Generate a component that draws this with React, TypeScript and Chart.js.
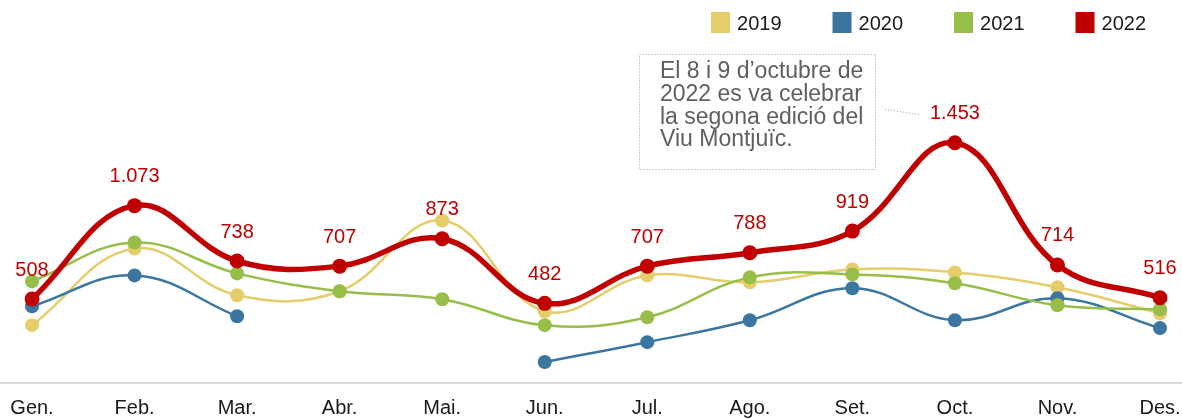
import React, { useEffect, useRef } from 'react';
import { Chart, registerables } from 'chart.js';

Chart.register(...registerables);

const months = ['Gen.', 'Feb.', 'Mar.', 'Abr.', 'Mai.', 'Jun.', 'Jul.', 'Ago.', 'Set.', 'Oct.', 'Nov.', 'Des.'];
const years = ['2019', '2020', '2021', '2022'];
const values2019 = [350, 814, 531, 555, 983, 434, 651, 609, 687, 669, 579, 422];
const values2020 = [464, 651, 404, null, null, 127, 247, 380, 573, 380, 513, 332];
const values2021 = [615, 850, 663, 555, 507, 350, 398, 639, 657, 603, 470, 446];
const values2022 = [508, 1073, 738, 707, 873, 482, 707, 788, 919, 1453, 714, 516];
const colors = ['#E6CD6C', '#3A76A0', '#98BE4A', '#C00000'];
const noteLines = ['El 8 i 9 d\u2019octubre de', '2022 es va celebrar', 'la segona edici\u00f3 del', 'Viu Montju\u00efc.'];

const FONT = '"Liberation Sans", Arial, sans-serif';

function fmt(v: number): string {
  if (v >= 1000) return Math.floor(v / 1000) + '.' + String(v % 1000).padStart(3, '0');
  return String(v);
}

const overlay = {
  id: 'overlay',
  beforeDatasetsDraw(chart: any) {
    const ctx = chart.ctx;
    const ca = chart.chartArea;
    ctx.save();
    ctx.strokeStyle = '#d9d9d9';
    ctx.lineWidth = 2;
    ctx.beginPath();
    ctx.moveTo(0, ca.bottom);
    ctx.lineTo(chart.width, ca.bottom);
    ctx.stroke();
    ctx.restore();
  },
  afterDatasetsDraw(chart: any) {
    const ctx = chart.ctx;
    const meta = chart.getDatasetMeta(3);
    ctx.save();
    ctx.font = '20px ' + FONT;
    ctx.fillStyle = colors[3];
    ctx.textAlign = 'center';
    ctx.textBaseline = 'middle';
    meta.data.forEach((pt: any, i: number) => {
      const v = values2022[i];
      ctx.fillText(fmt(v), pt.x, pt.y - 29);
    });
    ctx.restore();
  },
  afterDraw(chart: any) {
    const ctx = chart.ctx;
    ctx.save();
    // legend
    ctx.font = '20px ' + FONT;
    ctx.textBaseline = 'middle';
    ctx.textAlign = 'left';
    const boxW = 19, boxH = 21, gapText = 7, gapItem = 51;
    const widths = years.map((y) => boxW + gapText + ctx.measureText(y).width);
    const total = widths.reduce((a, b) => a + b, 0) + gapItem * (years.length - 1);
    let x = 1146 - total;
    years.forEach((y, i) => {
      ctx.fillStyle = colors[i];
      ctx.fillRect(x, 12, boxW, boxH);
      ctx.fillStyle = '#1a1a1a';
      ctx.fillText(y, x + boxW + gapText, 24);
      x += widths[i] + gapItem;
    });
    // annotation box
    ctx.strokeStyle = '#9a9a9a';
    ctx.lineWidth = 1;
    ctx.setLineDash([1, 2]);
    ctx.strokeRect(639.5, 54.5, 236, 115);
    ctx.beginPath();
    ctx.moveTo(885, 109.5);
    ctx.lineTo(919, 114.5);
    ctx.stroke();
    ctx.setLineDash([]);
    ctx.font = '23px ' + FONT;
    ctx.fillStyle = '#5f5f5f';
    noteLines.forEach((line, i) => {
      ctx.fillText(line, 660, 72 + i * 22.7);
    });
    ctx.restore();
  },
};

export default function App() {
  const ref = useRef<HTMLCanvasElement>(null);
  useEffect(() => {
    if (!ref.current) return;
    const series = [values2019, values2020, values2021, values2022];
    const chart = new Chart(ref.current, {
      type: 'line',
      data: {
        labels: months,
        datasets: series.map((vals, i) => ({
          label: years[i],
          data: vals,
          borderColor: colors[i],
          backgroundColor: colors[i],
          pointBackgroundColor: colors[i],
          pointBorderColor: colors[i],
          borderWidth: i === 3 ? 5.5 : 2.5,
          pointRadius: i === 3 ? 7.5 : 7,
          pointBorderWidth: 0,
          pointHoverRadius: 7,
          tension: 0.4,
          spanGaps: false,
          fill: false,
          order: 3 - i,
        })),
      },
      options: {
        responsive: false,
        animation: false,
        layout: { padding: { left: 32, right: 22, top: 52.4, bottom: -15 } },
        plugins: {
          legend: { display: false },
          tooltip: { enabled: false },
        },
        scales: {
          x: {
            offset: false,
            grid: { display: false, drawTicks: false },
            border: { display: false },
            afterFit: (scale: any) => {
              scale.paddingLeft = 0;
              scale.paddingRight = 0;
            },
            ticks: {
              padding: 14,
              color: '#1a1a1a',
              font: { family: FONT, size: 20, lineHeight: 1.15 },
              maxRotation: 0,
              autoSkip: false,
            },
          },
          y: {
            display: false,
            min: 0,
            max: 2000,
          },
        },
      },
      plugins: [overlay],
    });
    return () => chart.destroy();
  }, []);
  return (
    <div style={{ position: 'absolute', left: 0, top: 0, width: 1182, height: 419, overflow: 'hidden', background: '#fff' }}>
      <canvas ref={ref} width={1182} height={419} style={{ display: 'block' }} />
    </div>
  );
}
